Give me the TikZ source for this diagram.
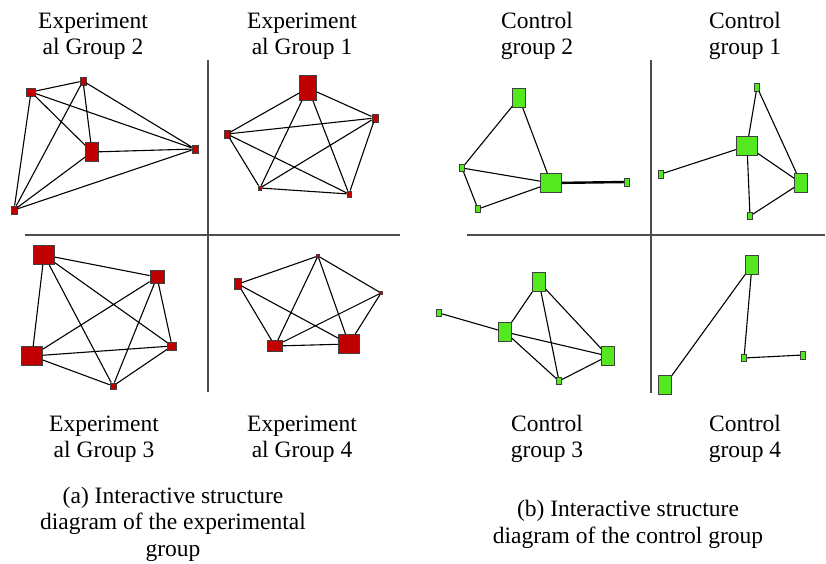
\documentclass[tikz,border=0pt]{standalone}
\usepackage{fontspec}
\setmainfont{Liberation Serif}
\definecolor{expred}{RGB}{192,0,0}
\definecolor{ctlgreen}{RGB}{84,232,30}
\begin{document}
\begin{tikzpicture}
    [
        x=1pt, y=-1pt,
        expnode/.style={rectangle, draw=black!75, line width=0.8pt, fill=expred, inner sep=0pt},
        ctlnode/.style={rectangle, draw=black!75, line width=0.8pt, fill=ctlgreen, inner sep=0pt},
        sz/.style 2 args={minimum width=#1pt, minimum height=#2pt},
        link/.style={draw=black, line width=1.1pt},
        axis/.style={draw=black!70, line width=1.2pt},
        grouplabel/.style={align=center, inner sep=0pt, font=\fontsize{23.5}{26.5}\selectfont},
    ]
    \useasboundingbox (0,0) rectangle (826,564);
    % experimental group
    \draw [axis] (208,60) -- (208,392);
    \draw [axis] (25,235) -- (400,235);
    % group 2
    \node (e2a) at (31,92) [expnode, sz={9}{8}] {};
    \node (e2b) at (83,81) [expnode, sz={6}{8}] {};
    \node (e2c) at (92,152) [expnode, sz={13}{19}] {};
    \node (e2d) at (195,149) [expnode, sz={6}{8}] {};
    \node (e2e) at (14,210) [expnode, sz={6}{8}] {};
    \draw [link] (e2a) -- (e2b) -- (e2c) -- (e2d) -- (e2e) -- (e2a);
    \draw [link] (e2a) -- (e2c) -- (e2e) -- (e2b) -- (e2d) -- (e2a);
    % group 1
    \node (e1a) at (308,88) [expnode, sz={17}{25}] {};
    \node (e1b) at (375,118) [expnode, sz={6}{8}] {};
    \node (e1c) at (227,134) [expnode, sz={6}{8}] {};
    \node (e1d) at (260,188) [expnode, sz={3}{4}] {};
    \node (e1e) at (349,194) [expnode, sz={4}{6}] {};
    \draw [link] (e1a) -- (e1b) -- (e1e) -- (e1d) -- (e1c) -- (e1a);
    \draw [link] (e1a) -- (e1d) -- (e1b) -- (e1c) -- (e1e) -- (e1a);
    % group 3
    \node (e3a) at (44,255) [expnode, sz={21}{19}] {};
    \node (e3b) at (157,277) [expnode, sz={14}{13}] {};
    \node (e3c) at (172,346) [expnode, sz={9}{8}] {};
    \node (e3d) at (32,356) [expnode, sz={21}{19}] {};
    \node (e3e) at (113,386) [expnode, sz={6}{6}] {};
    \draw [link] (e3a) -- (e3b) -- (e3c) -- (e3e) -- (e3d) -- (e3a);
    \draw [link] (e3a) -- (e3c) -- (e3d) -- (e3b) -- (e3e) -- (e3a);
    % group 4
    \node (e4a) at (318,256) [expnode, sz={3}{3}] {};
    \node (e4b) at (381,293) [expnode, sz={3}{3}] {};
    \node (e4c) at (238,284) [expnode, sz={7}{11}] {};
    \node (e4d) at (275,346) [expnode, sz={15}{11}] {};
    \node (e4e) at (349,344) [expnode, sz={21}{19}] {};
    \draw [link] (e4c) -- (e4a) -- (e4b) -- (e4e) -- (e4d) -- (e4c) -- (e4e) -- (e4a) -- (e4d) -- (e4b);
    % control group
    \draw [axis] (651,60) -- (651,393);
    \draw [axis] (467,235) -- (825,235);
    % group 2
    \node (c2a) at (519,98) [ctlnode, sz={13}{19}] {};
    \node (c2b) at (462,168) [ctlnode, sz={5}{7}] {};
    \node (c2c) at (478,209) [ctlnode, sz={5}{7}] {};
    \node (c2d) at (551,183) [ctlnode, sz={21}{19}] {};
    \node (c2e) at (627,182) [ctlnode, sz={5}{8}] {};
    \draw [link] (c2d) -- (c2a) -- (c2b) -- (c2c) -- (c2d) -- (c2b);
    \draw [link, line width=2.4pt] (c2d) -- (c2e);
    % group 1
    \node (c1a) at (757,87) [ctlnode, sz={5}{8}] {};
    \node (c1b) at (747,146) [ctlnode, sz={21}{19}] {};
    \node (c1c) at (661,174) [ctlnode, sz={5}{8}] {};
    \node (c1d) at (801,183) [ctlnode, sz={13}{19}] {};
    \node (c1e) at (750,216) [ctlnode, sz={5}{7}] {};
    \draw [link] (c1c) -- (c1b) -- (c1a) -- (c1d) -- (c1e) -- (c1b) -- (c1d);
    % group 3
    \node (c3a) at (539,282) [ctlnode, sz={13}{19}] {};
    \node (c3b) at (439,313) [ctlnode, sz={5}{7}] {};
    \node (c3c) at (505,332) [ctlnode, sz={13}{19}] {};
    \node (c3d) at (608,356) [ctlnode, sz={13}{19}] {};
    \node (c3e) at (559,381) [ctlnode, sz={5}{7}] {};
    \draw [link] (c3b) -- (c3c) -- (c3a) -- (c3d) -- (c3e) -- (c3c) -- (c3d);
    \draw [link] (c3a) -- (c3e);
    % group 4
    \node (c4a) at (752,265) [ctlnode, sz={13}{19}] {};
    \node (c4b) at (665,385) [ctlnode, sz={13}{19}] {};
    \node (c4c) at (744,358) [ctlnode, sz={5}{7}] {};
    \node (c4d) at (803,355) [ctlnode, sz={5}{8}] {};
    \draw [link] (c4b) -- (c4a) -- (c4c) -- (c4d);
    % labels
    \node (le2) at (93,36) [grouplabel] {Experiment\\al Group 2};
    \node (le1) at (302,36) [grouplabel] {Experiment\\al Group 1};
    \node (le3) at (104,439) [grouplabel] {Experiment\\al Group 3};
    \node (le4) at (302,439) [grouplabel] {Experiment\\al Group 4};
    \node (lc2) at (537,36) [grouplabel] {Control\\group 2};
    \node (lc1) at (745,36) [grouplabel] {Control\\group 1};
    \node (lc3) at (547,439) [grouplabel] {Control\\group 3};
    \node (lc4) at (745,439) [grouplabel] {Control\\group 4};
    \node (capa) at (173,524) [grouplabel] {(a) Interactive structure\\diagram of the experimental\\group};
    \node (capb) at (628,524.5) [grouplabel] {(b) Interactive structure\\diagram of the control group};
\end{tikzpicture}
\end{document}
